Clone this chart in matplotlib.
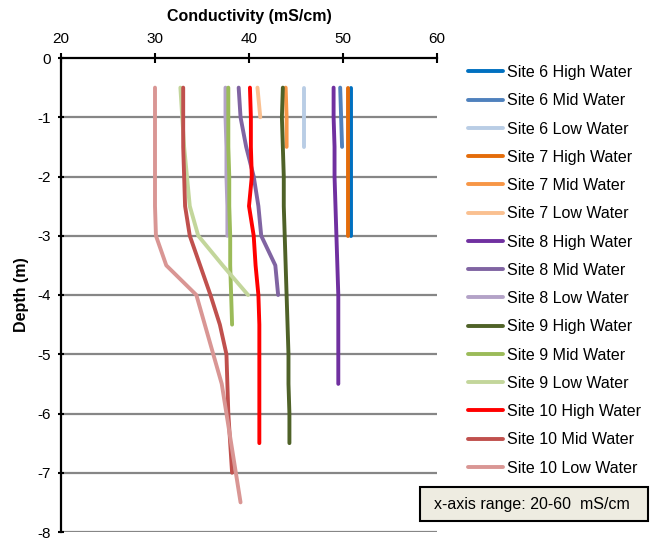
import matplotlib
matplotlib.use("Agg")
import matplotlib.pyplot as plt
from matplotlib.patches import Rectangle

plt.rcParams['font.family'] = ['Liberation Sans', 'DejaVu Sans']
plt.rcParams['axes.unicode_minus'] = False

depth_full = [-0.5, -1.0, -1.5, -2.0, -2.5, -3.0, -3.5, -4.0, -4.5, -5.0, -5.5, -6.0, -6.5, -7.0, -7.5]

labels = ["Site 6 High Water", "Site 6 Mid Water", "Site 6 Low Water",
          "Site 7 High Water", "Site 7 Mid Water", "Site 7 Low Water",
          "Site 8 High Water", "Site 8 Mid Water", "Site 8 Low Water",
          "Site 9 High Water", "Site 9 Mid Water", "Site 9 Low Water",
          "Site 10 High Water", "Site 10 Mid Water", "Site 10 Low Water"]

colors = ["#0070C0", "#4F81BD", "#B9CDE5",
          "#E46C0A", "#F79646", "#FAC090",
          "#7030A0", "#8064A2", "#B3A2C7",
          "#4F6228", "#9BBB59", "#C3D69B",
          "#FF0000", "#C0504D", "#D99694"]

site6_high = [50.9, 50.9, 50.9, 50.9, 50.9, 50.9]
site6_mid = [49.7, 49.8, 49.9]
site6_low = [45.9, 45.9, 45.9]
site7_high = [50.5, 50.5, 50.5, 50.5, 50.5, 50.5]
site7_mid = [43.9, 44.0, 44.0]
site7_low = [40.9, 41.2]
site8_high = [49.0, 49.0, 49.1, 49.1, 49.2, 49.3, 49.4, 49.5, 49.5, 49.5, 49.5]
site8_mid = [38.9, 39.1, 39.7, 40.5, 41.0, 41.3, 42.8, 43.1]
site8_low = [37.5, 37.5, 37.6, 37.6, 37.7, 37.7]
site9_high = [43.6, 43.5, 43.6, 43.7, 43.7, 43.8, 43.9, 44.0, 44.1, 44.2, 44.2, 44.3, 44.3]
site9_mid = [37.8, 37.8, 37.8, 37.9, 37.9, 38.0, 38.0, 38.1, 38.2]
site9_low = [32.7, 32.9, 33.1, 33.4, 33.7, 34.6, 37.2, 39.9]
site10_high = [40.1, 40.2, 40.2, 40.3, 40.0, 40.5, 40.7, 41.0, 41.1, 41.1, 41.1, 41.1, 41.1]
site10_mid = [33.0, 33.0, 33.0, 33.1, 33.2, 33.7, 34.8, 35.9, 36.9, 37.6, 37.7, 37.8, 38.0, 38.2]
site10_low = [30.0, 30.0, 30.0, 30.0, 30.0, 30.1, 31.2, 34.4, 35.3, 36.2, 37.1, 37.6, 38.1, 38.6, 39.1]

series = [site6_high, site6_mid, site6_low, site7_high, site7_mid, site7_low,
          site8_high, site8_mid, site8_low, site9_high, site9_mid, site9_low,
          site10_high, site10_mid, site10_low]

x_ticks = [20, 30, 40, 50, 60]
y_ticks = [0, -1, -2, -3, -4, -5, -6, -7, -8]

fig = plt.figure(figsize=(6.56, 5.45), dpi=100)
ax = fig.add_axes([61/656, 1-532/545, (437-61)/656, (532-58)/545])

for yv in y_ticks[1:]:
    ax.axhline(yv, color="#868686", lw=1.6, zorder=1)

handles = []
for vals, lab, col in zip(series, labels, colors):
    h, = ax.plot(vals, depth_full[:len(vals)], color=col, lw=2.8,
                 solid_capstyle='round', solid_joinstyle='round', label=lab, zorder=2)
    handles.append(h)

ax.set_xlim(20, 60)
ax.set_ylim(-8, 0)
ax.set_xticks(x_ticks)
ax.set_yticks(y_ticks)
ax.set_yticklabels([str(v) for v in y_ticks])
ax.xaxis.tick_top()
ax.xaxis.set_label_position('top')
for s in ['right', 'bottom']:
    ax.spines[s].set_visible(False)
for s in ['left', 'top']:
    ax.spines[s].set_linewidth(1.6)
    ax.spines[s].set_color('black')
    ax.spines[s].set_zorder(3)
ax.tick_params(axis='both', direction='inout', width=1.5, labelsize=11, colors='black')
ax.tick_params(axis='x', length=7, pad=5)
ax.tick_params(axis='y', length=5, pad=5)
ax.set_xlabel("Conductivity (mS/cm)", fontsize=11.5, fontweight='bold', labelpad=8)
ax.set_ylabel("Depth (m)", fontsize=11.5, fontweight='bold', labelpad=6)

fig.legend(handles=handles, loc='upper left', bbox_to_anchor=(468/656, 1-65/545),
           frameon=False, fontsize=11.5, handlelength=2.2, handletextpad=0.25,
           labelspacing=0.83, borderpad=0, borderaxespad=0)

fig.patches.append(Rectangle((420/656, 1-521/545), (648-420)/656, (521-487)/545,
                             transform=fig.transFigure, facecolor="#EEECE1",
                             edgecolor="black", lw=1.5))
fig.text(532/656, 1-504/545, "x-axis range: 20-60  mS/cm", ha='center', va='center', fontsize=11.5)

fig.savefig("out.png", dpi=100)
